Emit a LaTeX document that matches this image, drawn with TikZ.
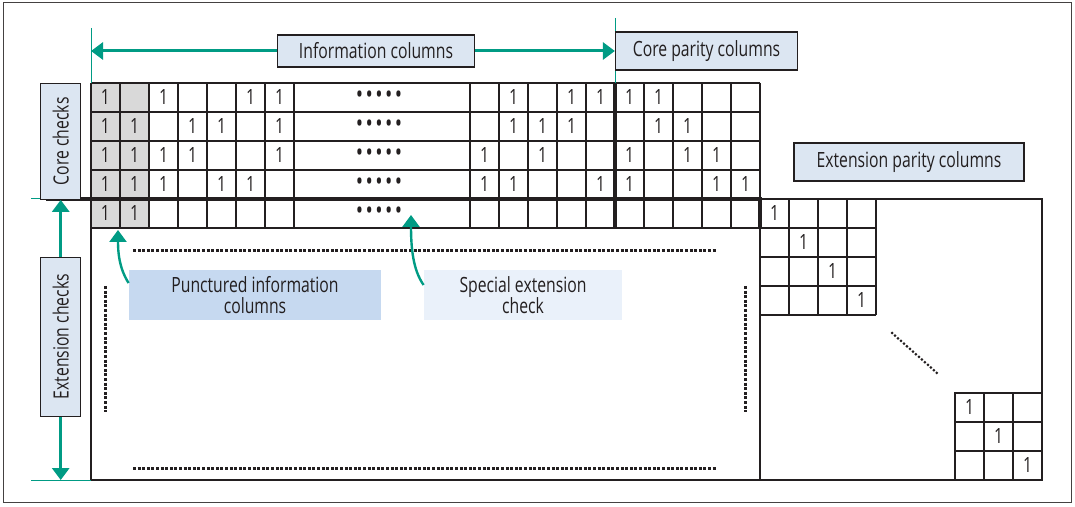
\documentclass[tikz,border=0pt]{standalone}
\usepackage{fontspec}
\setmainfont{Open Sans}[FakeStretch=0.75]
\usetikzlibrary{arrows.meta}
\definecolor{tealarr}{RGB}{0,155,132}
\definecolor{labelblue}{RGB}{220,230,242}
\definecolor{punctblue}{RGB}{198,217,240}
\definecolor{specialblue}{RGB}{234,241,250}
\definecolor{cellgray}{RGB}{217,217,217}
\definecolor{ink}{RGB}{35,31,32}

\begin{document}
\begin{tikzpicture}[x=0.5pt,y=-0.5pt,
  every node/.style={font=\fontsize{10.5}{10.8}\selectfont, text=ink},
  labelbox/.style={draw=ink, line width=0.6pt, fill=labelblue, inner sep=0pt},
  notebox/.style={inner sep=0pt, align=center},
  one/.style={inner sep=0pt},
  rowdots/.style={inner sep=0pt, font=\fontsize{13}{13}\selectfont},
  gridline/.style={draw=ink, line width=0.6pt},
  boldline/.style={draw=ink, line width=1.7pt},
  guide/.style={draw=tealarr, line width=0.5pt},
  tealarrow/.style={draw=tealarr, line width=1.5pt, -{Triangle[length=6pt,width=8.5pt]}},
  dotline/.style={draw=ink, line width=1.5pt, dash pattern=on 1.5pt off 0.8pt},
]
\useasboundingbox (0,0) rectangle (1075,507);
\draw[draw=ink!85, line width=0.5pt] (3,3) rectangle (1071,502);

\fill[cellgray] (91,83) rectangle (149,228);
\foreach \y in {83,112,141,170,228} \draw[gridline] (91,\y) -- (760,\y);
\foreach \x in {120,149,178,207,236,265,294,470,499,528,557,586,644,673,702,731} \draw[gridline] (\x,83) -- (\x,228);
\draw[gridline] (91,83) -- (91,480) -- (760,480);
\draw[gridline] (760,83) -- (760,199);
\draw[gridline] (760,199) rectangle (1042,480);
\foreach \k in {1,...,4} {
  \draw[gridline] (760+29*\k,199) -- (760+29*\k,315);
  \draw[gridline] (760,199+29*\k) -- (876,199+29*\k);
}
\draw[gridline] (955,393) rectangle (1042,480);
\foreach \k in {1,2} {
  \draw[gridline] (955+29*\k,393) -- (955+29*\k,480);
  \draw[gridline] (955,393+29*\k) -- (1042,393+29*\k);
}
\draw[boldline] (46,199) -- (762,199);
\draw[boldline] (615,83) -- (615,228);
\draw[boldline] (760,199) -- (760,228);

\foreach \x [count=\i] in {105.5,163.5,250.5,279.5,513.5,571.5,600.5,629.5,658.5} \node[one] (ra-\i) at (\x,97.5) {1};
\foreach \x [count=\i] in {105.5,134.5,192.5,221.5,279.5,513.5,542.5,571.5,658.5,687.5} \node[one] (rb-\i) at (\x,126.5) {1};
\foreach \x [count=\i] in {105.5,134.5,163.5,192.5,279.5,484.5,542.5,629.5,687.5,716.5} \node[one] (rc-\i) at (\x,155.5) {1};
\foreach \x [count=\i] in {105.5,134.5,163.5,221.5,250.5,484.5,513.5,600.5,629.5,716.5,745.5} \node[one] (rd-\i) at (\x,184.5) {1};
\foreach \x [count=\i] in {105.5,134.5} \node[one] (re-\i) at (\x,213.5) {1};
\foreach \y [count=\i] in {97.5,126.5,155.5,184.5,213.5} \node[rowdots] (dots-\i) at (379,\y) {\textbullet\hspace{1.2pt}\textbullet\hspace{1.2pt}\textbullet\hspace{1.2pt}\textbullet\hspace{1.2pt}\textbullet};
\foreach \k in {0,...,3} \node[one] (ep-\k) at (774.5+29*\k,213.5+29*\k) {1};
\foreach \k in {0,1,2} \node[one] (eb-\k) at (969.5+29*\k,407.5+29*\k) {1};

\draw[dotline] (133,251) -- (717,251);
\draw[dotline] (133,468) -- (717,468);
\draw[dotline] (105,286) -- (105,412);
\draw[dotline] (745,286) -- (745,412);
\draw[draw=ink, line width=1.5pt, line cap=round, dash pattern=on 0pt off 2pt] (892,333) -- (937,373);

\draw[guide] (91,28) -- (91,83);
\draw[guide] (615,18) -- (615,83);
\draw[guide] (31,199) -- (46,199);
\draw[guide] (31,480) -- (91,480);

\node[labelbox, minimum width=98.5pt, minimum height=16pt] (infocols) at (376,51) {Information columns};
\node[labelbox, minimum width=91pt, minimum height=19pt] (coreparity) at (706.5,51) {Core parity columns};
\node[labelbox, minimum width=115pt, minimum height=19pt] (extparity) at (909,162) {Extension parity columns};
\node[labelbox, rotate=90, minimum width=58pt, minimum height=20pt] (corechecks) at (60.7,141.3) {Core checks};
\node[labelbox, rotate=90, minimum width=79.5pt, minimum height=20pt] (extchecks) at (60.7,336.7) {Extension checks};
\node[notebox, fill=punctblue, minimum width=126pt, minimum height=25pt] (punct) at (255,295) {Punctured information\\columns};
\node[notebox, fill=specialblue, minimum width=99pt, minimum height=25pt] (special) at (523,295) {Special extension\\check};

\coordinate (infoL) at (91,51);
\coordinate (extbot) at (60.7,480);
\coordinate (punctTip) at (118,230);
\coordinate (specialTip) at (411,215);
\draw[tealarrow] (infocols.west) -- (infoL);
\draw[tealarrow] (infocols.east) -- (coreparity.west);
\draw[tealarrow] (extchecks.east) -- (corechecks.west);
\draw[tealarrow] (extchecks.west) -- (extbot);
\draw[tealarrow, line width=1.2pt] ([yshift=6pt]punct.west) .. controls (119,268) and (118,252) .. (punctTip);
\draw[tealarrow, line width=1.2pt] ([yshift=5pt]special.west) .. controls (413,270) and (411,248) .. (specialTip);
\end{tikzpicture}
\end{document}
